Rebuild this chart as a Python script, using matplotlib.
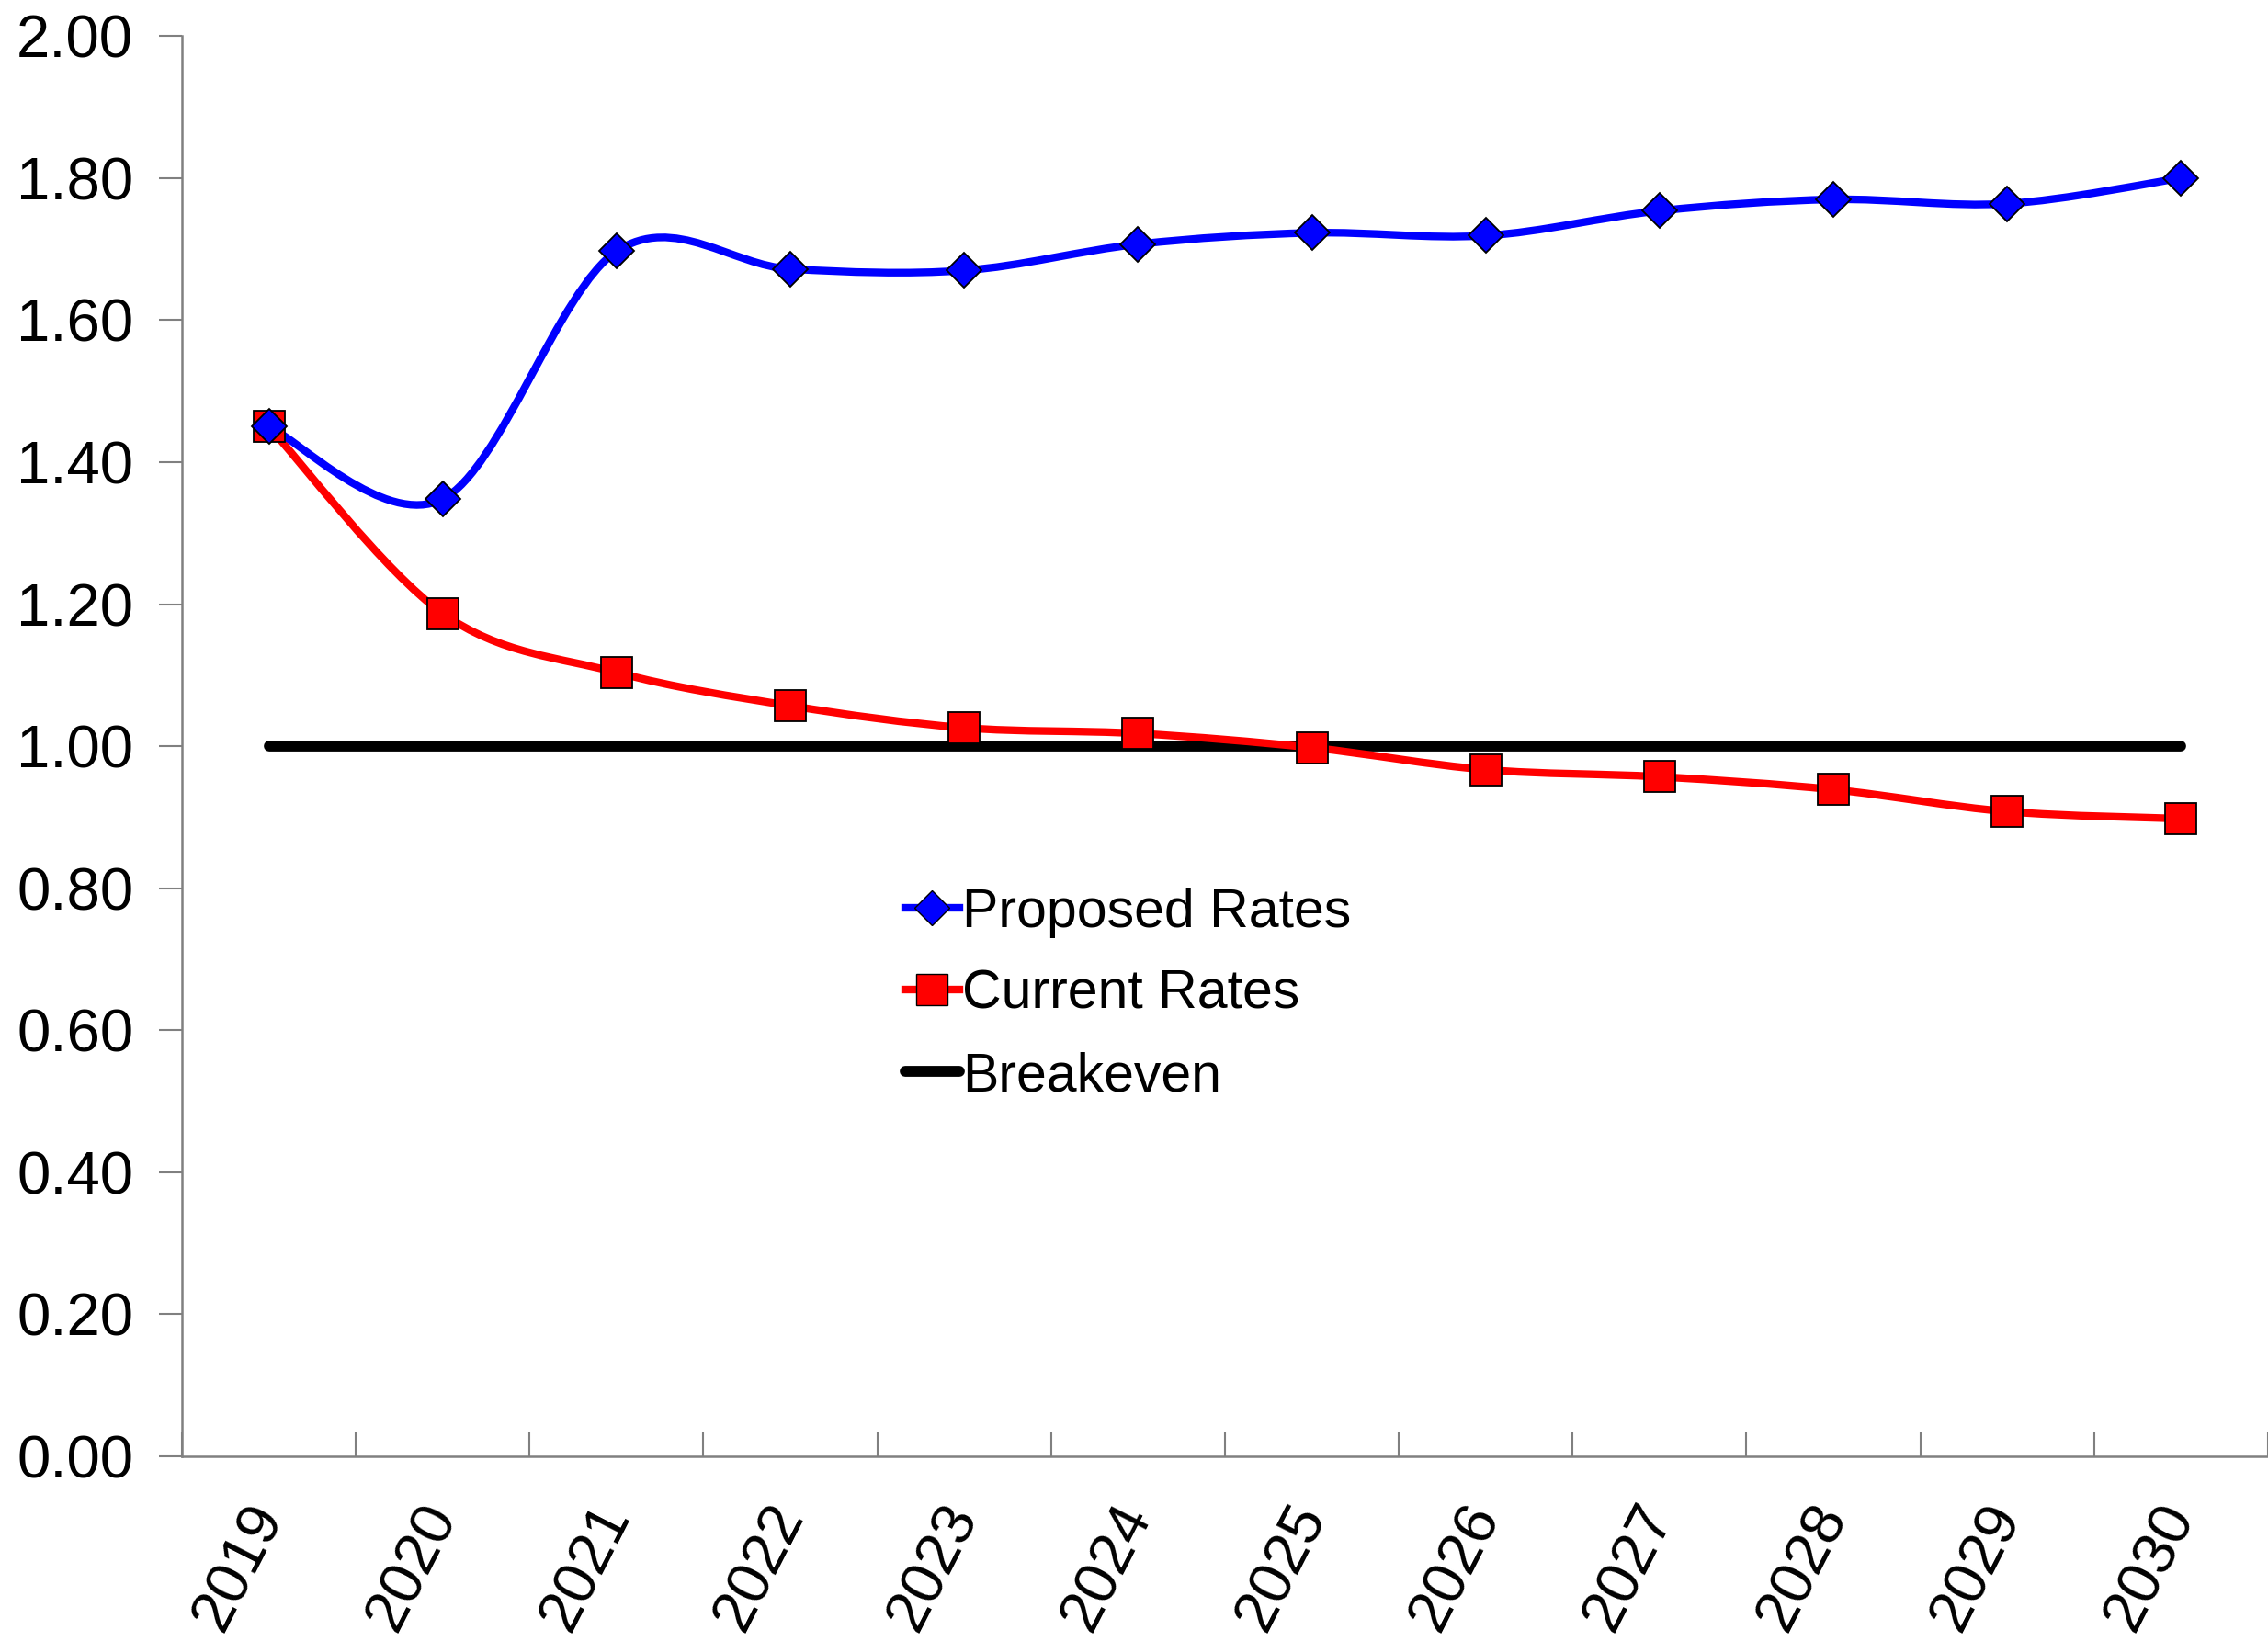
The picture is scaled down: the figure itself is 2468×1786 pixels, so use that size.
import numpy as np
import matplotlib
matplotlib.use("Agg")
import matplotlib.pyplot as plt
from matplotlib.path import Path
from matplotlib.patches import PathPatch
from matplotlib.lines import Line2D

plt.rcParams['font.family'] = ['Liberation Sans', 'DejaVu Sans']

years = ["2019", "2020", "2021", "2022", "2023", "2024",
         "2025", "2026", "2027", "2028", "2029", "2030"]
proposed = [1.45, 1.348, 1.697, 1.672, 1.670, 1.707,
            1.723, 1.719, 1.754, 1.770, 1.764, 1.800]
current = [1.45, 1.187, 1.104, 1.057, 1.026, 1.018,
           0.998, 0.967, 0.957, 0.939, 0.908, 0.898]
breakeven = [1.0] * len(years)


def smooth_path(xs, ys):
    # excel style smoothed line: bezier segments with catmull-rom control points
    pts = np.column_stack([xs, ys]).astype(float)
    n = len(pts)
    verts = [pts[0]]
    codes = [Path.MOVETO]
    for i in range(n - 1):
        p0 = pts[max(i - 1, 0)]
        p1 = pts[i]
        p2 = pts[i + 1]
        p3 = pts[min(i + 2, n - 1)]
        c1 = p1 + (p2 - p0) / 6.0
        c2 = p2 - (p3 - p1) / 6.0
        verts += [c1, c2, p2]
        codes += [Path.CURVE4] * 3
    return Path(verts, codes)


x = np.arange(len(years))

fig = plt.figure(figsize=(24.68, 17.86), dpi=100)
ax = fig.add_axes([0.0802, 0.1125, 0.9198, 0.8655])

ax.plot(x, breakeven, color="black", lw=8.5, solid_capstyle="round", zorder=2)

ax.add_patch(PathPatch(smooth_path(x, current), fill=False, edgecolor="#ff0000",
                       lw=6, capstyle="round", zorder=3))
ax.add_patch(PathPatch(smooth_path(x, proposed), fill=False, edgecolor="#0000ff",
                       lw=6, capstyle="round", zorder=3))

ax.plot(x, current, ls="none", marker="s", ms=25, mfc="#ff0000", mec="black",
        mew=1.3, zorder=4)
ax.plot(x, proposed, ls="none", marker="D", ms=19, mfc="#0000ff", mec="black",
        mew=1.3, zorder=5)

ax.set_xlim(-0.5, len(years) - 0.5)
ax.set_ylim(0, 2.0)
ax.set_yticks(np.arange(0, 2.01, 0.2))
ax.set_yticklabels(["%.2f" % v for v in np.arange(0, 2.01, 0.2)])
ax.set_xticks(x)
ax.set_xticklabels(years, rotation=63, rotation_mode="anchor", ha="right", va="center")
ax.set_xticks(np.arange(-0.5, len(years)), minor=True)

ax.tick_params(axis="y", direction="out", length=18, width=1.5, color="#808080",
               labelsize=47, pad=20)
ax.tick_params(axis="x", which="major", length=0, labelsize=47, pad=40)
ax.tick_params(axis="x", which="minor", direction="in", length=19, width=1.5,
               color="#808080")

for s in ["top", "right"]:
    ax.spines[s].set_visible(False)
for s in ["left", "bottom"]:
    ax.spines[s].set_color("#808080")
    ax.spines[s].set_linewidth(1.8)

handles = [
    Line2D([], [], color="#0000ff", lw=6, marker="D", ms=19, mfc="#0000ff", mec="black"),
    Line2D([], [], color="#ff0000", lw=6, marker="s", ms=25, mfc="#ff0000", mec="black"),
    Line2D([], [], color="black", lw=8.5, solid_capstyle="round"),
]
ax.legend(handles, ["Proposed Rates", "Current Rates", "Breakeven"],
          loc="center left", bbox_to_anchor=(0.399, 0.394),
          bbox_transform=fig.transFigure, frameon=False, fontsize=42.5,
          handlelength=1.0, handletextpad=0.05, labelspacing=0.58,
          borderpad=0, borderaxespad=0)

fig.savefig("out.png", dpi=100)
